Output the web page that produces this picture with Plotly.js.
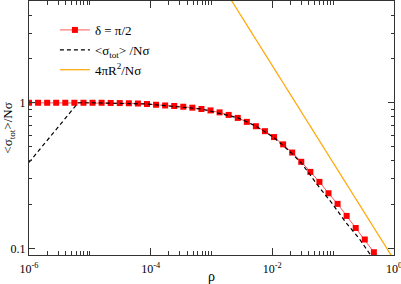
<!DOCTYPE html>
<html>
<head>
<meta charset="utf-8">
<script src="https://cdn.plot.ly/plotly-3.0.1.min.js"></script>
<style>html,body{margin:0;padding:0;background:#fff;}#chart{width:401px;height:284px;}</style>
</head>
<body>
<div id="chart"></div>
<script>
// δ = π/2 series (red squares)
const rhoDelta = [1.0e-6, 1.41e-6, 1.99e-6, 2.80e-6, 3.95e-6, 5.57e-6, 7.86e-6, 1.108e-5, 1.562e-5, 2.202e-5,
  3.105e-5, 4.38e-5, 6.17e-5, 8.70e-5, 1.227e-4, 1.73e-4, 2.44e-4, 3.44e-4, 4.85e-4, 6.84e-4,
  9.64e-4, 1.359e-3, 1.916e-3, 2.702e-3, 3.809e-3, 5.37e-3, 7.57e-3, 1.068e-2, 1.505e-2, 2.123e-2,
  2.99e-2, 4.22e-2, 5.95e-2, 8.39e-2, 0.1183, 0.1667, 0.2351, 0.3314, 0.4673];
const sigDelta = [1.0, 1.0, 1.0, 1.0, 1.0, 1.0, 1.0, 1.0, 1.0, 0.997,
  0.995, 0.992, 0.988, 0.980, 0.969, 0.958, 0.950, 0.939, 0.925, 0.906,
  0.886, 0.859, 0.825, 0.787, 0.739, 0.690, 0.638, 0.581, 0.518, 0.455,
  0.393, 0.335, 0.286, 0.239, 0.202, 0.167, 0.138, 0.115, 0.094];

// <σ_tot>/Nσ (black dashed)
const rhoAvg = [1.0e-6, 6.43e-6, 1.12e-5, 8.8e-5, 6.86e-4, 2.74e-3, 5.45e-3, 1.08e-2, 2.13e-2, 3.1e-2,
  5.9e-2, 9.75e-2, 0.161, 0.267, 0.42];
const sigAvg = [0.389, 1.0, 1.0, 0.980, 0.906, 0.787, 0.690, 0.573, 0.446, 0.379,
  0.263, 0.202, 0.151, 0.117, 0.089];

// 4πR²/Nσ (orange)
const rhoGeo = [1e-3, 1e-2, 1e-1, 1];
const sigGeo = [8.35, 1.80, 0.388, 0.0835];

const xMajor = [1e-6, 1e-4, 1e-2, 1];
const xMajorText = ['10<sup>-6</sup>', '10<sup>-4</sup>', '10<sup>-2</sup>', '10<sup>0</sup>'];
const xMinor = [2e-6,3e-6,4e-6,5e-6,6e-6,7e-6,8e-6,9e-6,1e-5,
  2e-4,3e-4,4e-4,5e-4,6e-4,7e-4,8e-4,9e-4,1e-3,
  2e-2,3e-2,4e-2,5e-2,6e-2,7e-2,8e-2,9e-2,1e-1];
const yMajor = [0.1, 1];
const yMajorText = ['0.1', '1'];
const yMinor = [0.2,0.3,0.4,0.5,0.6,0.7,0.8,0.9,2,3,4];

const serif = 'Liberation Serif, Times New Roman, serif';
const axisColor = '#333';

const traces = [
  {x: rhoDelta, y: sigDelta, type: 'scatter', mode: 'lines+markers', name: 'δ = π/2',
   line: {color: '#ff5a5a', width: 1}, marker: {symbol: 'square', size: 6, color: '#ff0000'}},
  {x: rhoAvg, y: sigAvg, type: 'scatter', mode: 'lines', name: '&lt;σ<sub>tot</sub>&gt; /Nσ',
   line: {color: '#000', width: 1.2, dash: '4px,3px'}},
  {x: rhoGeo, y: sigGeo, type: 'scatter', mode: 'lines', name: '4πR<sup>2</sup>/Nσ',
   line: {color: '#ffa500', width: 1.2}}
];

const layout = {
  width: 401, height: 284,
  margin: {l: 29, r: 7, t: 1, b: 29},
  paper_bgcolor: '#fff', plot_bgcolor: '#fff',
  font: {family: serif, size: 12, color: '#000'},
  showlegend: true,
  legend: {x: 0.071, y: 0.945, xanchor: 'left', yanchor: 'top', bgcolor: 'rgba(0,0,0,0)',
    font: {family: serif, size: 13}, tracegroupgap: 0},
  xaxis: {type: 'log', range: [-6, 0.0005], showgrid: false, zeroline: false,
    showline: true, linecolor: axisColor, linewidth: 1, mirror: 'allticks',
    ticks: 'inside', ticklen: 7, tickcolor: axisColor, tickwidth: 1,
    tickmode: 'array', tickvals: xMajor, ticktext: xMajorText,
    tickfont: {family: serif, size: 12}, ticklabeloverflow: 'allow', ticklabelstandoff: 3,
    minor: {tickmode: 'array', tickvals: xMinor, ticks: 'inside', ticklen: 4, tickcolor: axisColor, tickwidth: 1, showgrid: false},
    title: {text: 'ρ', font: {family: serif, size: 14}, standoff: 3}},
  yaxis: {type: 'log', range: [Math.log10(0.09), Math.log10(5)], showgrid: false, zeroline: false,
    showline: true, linecolor: axisColor, linewidth: 1, mirror: 'allticks',
    ticks: 'inside', ticklen: 6, tickcolor: axisColor, tickwidth: 1,
    tickmode: 'array', tickvals: yMajor, ticktext: yMajorText,
    tickfont: {family: serif, size: 12},
    minor: {tickmode: 'array', tickvals: yMinor, ticks: 'inside', ticklen: 3, tickcolor: axisColor, tickwidth: 1, showgrid: false},
    title: {text: '&lt;σ<sub>tot</sub>&gt;/Nσ', font: {family: serif, size: 13}, standoff: 3}}
};

Plotly.newPlot('chart', traces, layout, {displayModeBar: false, staticPlot: true});
</script>
</body>
</html>
